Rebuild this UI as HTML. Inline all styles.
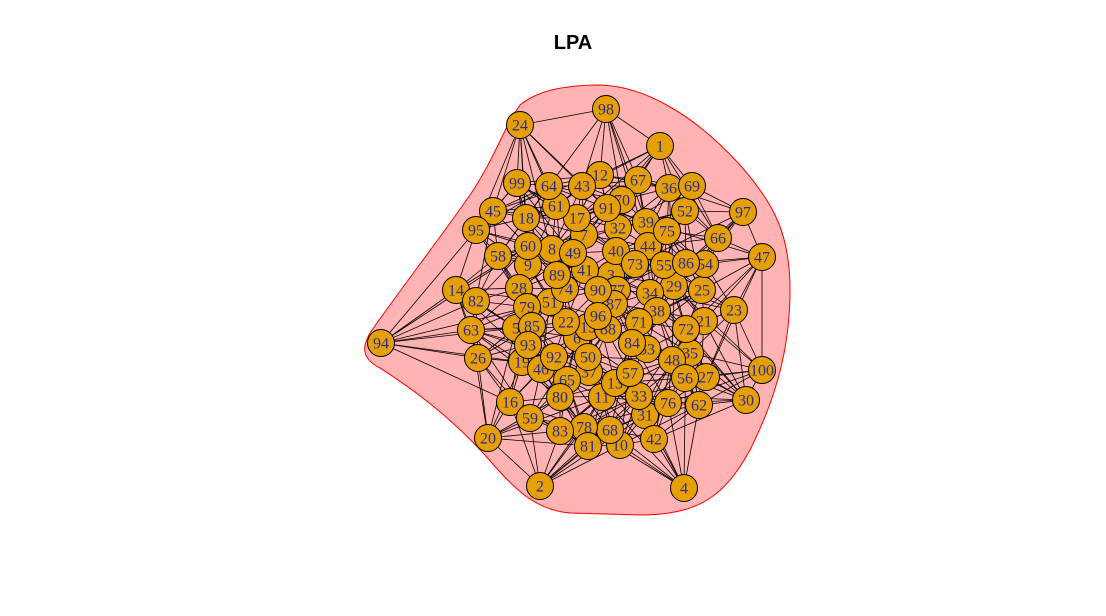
<!DOCTYPE html>
<html><head><meta charset="utf-8"><style>
html,body{margin:0;padding:0;background:#fff;}
svg{display:block;}
</style></head><body>
<svg id="chart" width="1106" height="616" viewBox="0 0 1106 616" xmlns="http://www.w3.org/2000/svg">
<text x="573" y="49" text-anchor="middle" font-family="Liberation Sans, sans-serif" font-weight="bold" font-size="20" fill="#000">LPA</text>
<path fill="#ffb3b3" stroke="#ff0000" stroke-width="1"
 d="M600,85 C640,86 690,110 740,165 C775,205 790,235 790,290 C790,350 775,400 750,450 C725,495 700,515 640,515 L570,513 C535,510 515,490 485,455 C460,428 430,400 380,368 C360,358 362,345 372,330 C400,290 435,245 470,195 C495,158 505,125 520,105 C540,88 575,85 600,85 Z"/>
<g id="edges"></g>
<g id="nodes"></g>
</svg>
<script>
const nodeIds = [1,2,3,4,5,6,7,8,9,10,11,12,13,14,15,16,17,18,19,20,21,22,23,24,25,26,27,28,29,30,31,32,33,34,35,36,37,38,39,40,41,42,43,44,45,46,47,48,49,50,51,52,53,54,55,56,57,58,59,60,61,62,63,64,65,66,67,68,69,70,71,72,73,74,75,76,77,78,79,80,81,82,83,84,85,86,87,88,89,90,91,92,93,94,95,96,97,98,99,100];
const nodeX = [660,540,611,684,516,577,584,552,528,620,602,600,615,456,588,510,577,526,522,488,704,566,734,520,702,478,706,519,674,746,645,618,639,650,690,669,589,657,646,616,585,654,582,648,493,541,762,672,573,588,550,685,647,705,664,685,630,498,530,528,556,699,471,549,567,718,638,610,692,622,639,686,635,565,667,668,617,584,527,560,588,476,560,632,532,686,614,608,557,598,607,554,528,381,476,598,743,606,517,762];
const nodeY = [146,486,275,488,328,338,235,249,265,445,397,175,383,290,327,402,218,218,362,438,321,322,310,125,290,358,377,288,286,400,415,228,396,293,353,188,372,311,222,251,270,439,186,246,211,369,257,360,253,357,302,211,349,264,265,378,373,256,418,246,206,405,330,186,380,238,180,430,186,200,322,329,264,289,231,403,290,427,307,397,446,301,431,343,326,263,304,329,275,290,208,357,345,343,230,316,212,109,183,370];

const NS="http://www.w3.org/2000/svg";
const eg=document.getElementById('edges'), ng=document.getElementById('nodes');
const n=nodeIds.length;
const seen=new Set();
function addEdge(i,j){
  const k=i<j?i+'-'+j:j+'-'+i; if(seen.has(k)||i===j) return; seen.add(k);
  const l=document.createElementNS(NS,'line');
  l.setAttribute('x1',nodeX[i]);l.setAttribute('y1',nodeY[i]);
  l.setAttribute('x2',nodeX[j]);l.setAttribute('y2',nodeY[j]);
  l.setAttribute('stroke','#000');l.setAttribute('stroke-width','0.8');
  
  
  eg.appendChild(l);
}
for(let i=0;i<n;i++){
  const d=[];
  for(let j=0;j<n;j++) if(j!==i) d.push([Math.hypot(nodeX[i]-nodeX[j],nodeY[i]-nodeY[j]),j]);
  d.sort((a,b)=>a[0]-b[0]);
  for(let k=0;k<7;k++) addEdge(i,d[k][1]);
  addEdge(i,d[8+(i%7)][1]);
  addEdge(i,d[15+(i*3%11)][1]);
  addEdge(i,d[10+(i*5%13)][1]);
}
for(let i=0;i<n;i++){
  const g=document.createElementNS(NS,'g');
  
  
  const c=document.createElementNS(NS,'circle');
  c.setAttribute('cx',nodeX[i]);c.setAttribute('cy',nodeY[i]);c.setAttribute('r',13.5);
  c.setAttribute('fill','#e69f00');c.setAttribute('stroke','#000');c.setAttribute('stroke-width','1');
  
  
  const t=document.createElementNS(NS,'text');
  t.setAttribute('x',nodeX[i]);t.setAttribute('y',nodeY[i]+5.5);
  t.setAttribute('text-anchor','middle');
  t.setAttribute('font-family','Liberation Serif, serif');
  t.setAttribute('font-size','16');t.setAttribute('fill','#2b2b8f');
  
  
  t.textContent=nodeIds[i];
  g.appendChild(c);g.appendChild(t);ng.appendChild(g);
}
</script>
</body></html>
